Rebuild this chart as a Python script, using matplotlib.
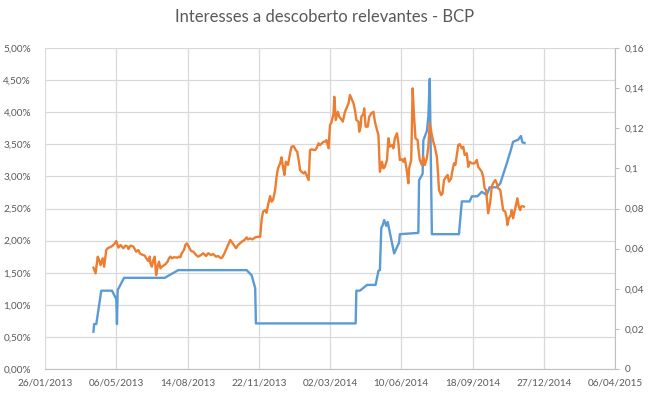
import numpy as np
import matplotlib
matplotlib.use("Agg")
import matplotlib.pyplot as plt
import matplotlib.dates as mdates
from matplotlib.ticker import FuncFormatter, MultipleLocator

# dias contados a partir de 26/01/2013
inicio = np.datetime64("2013-01-26")

# interesses a descoberto (% do capital) - eixo da esquerda
dias_short = [68, 69, 72, 79, 94, 100, 101, 102, 111, 168, 187, 283, 290, 295, 296,
              436, 437, 442, 452, 464, 468, 470, 472, 474, 476, 479, 481, 490, 497,
              498, 524, 525, 530, 531, 536, 538, 540, 543, 581, 585, 596, 599, 607,
              613, 620, 624, 634, 639, 648, 653, 657, 664, 668, 670, 673]
short_pct = [0.58, 0.70, 0.70, 1.22, 1.22, 1.09, 0.70, 1.23, 1.42, 1.42, 1.54, 1.54,
             1.46, 1.26, 0.71,
             0.71, 1.22, 1.22, 1.31, 1.31, 1.53, 1.54, 2.20, 2.24, 2.32, 2.23, 2.29,
             1.80, 1.97, 2.10, 2.12, 2.94, 3.04, 3.56, 3.71, 3.93, 4.52, 2.10, 2.10,
             2.61, 2.61, 2.69, 2.69, 2.76, 2.71, 2.83, 2.83, 2.89, 3.20, 3.38, 3.54,
             3.57, 3.63, 3.53, 3.52]

# cotação BCP (EUR) - eixo da direita
dias_cot = [68, 71, 74, 76, 78, 81, 83, 85, 86, 88, 93, 95, 98, 100, 101, 103, 106,
            108, 110, 113, 116, 117, 120, 124, 126, 128, 131, 133, 135, 140, 142, 145,
            147, 148, 150, 152, 154, 156, 158, 160, 162, 164, 169, 172, 174, 176, 178,
            181, 186, 188, 190, 192, 195, 197, 199, 201, 203, 205, 208, 210, 212, 215,
            219, 222, 226, 229, 233, 236, 240, 243, 247, 249, 252, 255, 260, 263, 268,
            271, 276, 280, 283, 285, 288, 291, 295, 299, 302, 304, 306, 309, 311, 313,
            316, 318, 320, 323, 325, 327, 330, 332, 334, 336, 338, 341, 344, 346, 349,
            352, 354, 356, 358, 360, 363, 365, 367, 370, 372, 374, 379, 381, 384, 386,
            391, 393, 395, 398, 400, 402, 405, 406, 408, 411, 413, 415, 418, 421, 423,
            426, 428, 430, 433, 435, 437, 440, 441, 443, 444, 447, 448, 450, 453, 455,
            458, 461, 463, 466, 468, 470, 473, 475, 477, 480, 482, 484, 487, 489, 491,
            494, 496, 498, 501, 503, 505, 508, 510, 511, 514, 516, 518, 520, 523, 524,
            526, 529, 531, 533, 536, 538, 540, 543, 545, 547, 550, 551, 553, 556, 558,
            560, 563, 565, 567, 570, 572, 574, 576, 580, 582, 585, 587, 589, 592, 594,
            596, 599, 603, 606, 608, 613, 615, 617, 619, 622, 625, 627, 629, 632, 634,
            636, 639, 641, 643, 646, 648, 649, 651, 654, 655, 657, 660, 662, 663, 665,
            667, 668, 670, 672]
cotacao = [0.0505, 0.0477, 0.0560, 0.0543, 0.0518, 0.0552, 0.0510, 0.0568, 0.0593,
           0.0602, 0.0610, 0.0615, 0.0626, 0.0638, 0.0626, 0.0605, 0.0618, 0.0610,
           0.0602, 0.0615, 0.0610, 0.0598, 0.0615, 0.0610, 0.0598, 0.0585, 0.0593,
           0.0577, 0.0572, 0.0565, 0.0552, 0.0538, 0.0560, 0.0527, 0.0510, 0.0543,
           0.0560, 0.0468, 0.0510, 0.0535, 0.0502, 0.0510, 0.0522, 0.0535, 0.0552,
           0.0560, 0.0552, 0.0557, 0.0555, 0.0560, 0.0557, 0.0577, 0.0593, 0.0618,
           0.0626, 0.0615, 0.0602, 0.0588, 0.0585, 0.0577, 0.0568, 0.0560,
           0.0568, 0.0577, 0.0563, 0.0577, 0.0568, 0.0573, 0.0560, 0.0563, 0.0552,
           0.0557, 0.0578, 0.0602, 0.0643, 0.0629, 0.0602, 0.0618, 0.0634, 0.0643,
           0.0656, 0.0646, 0.0651, 0.0646, 0.0656, 0.0659, 0.0659, 0.0743, 0.0784,
           0.0792, 0.0779, 0.0817, 0.0862, 0.0834, 0.0842, 0.0892, 0.0958, 0.1000,
           0.1025, 0.1055, 0.1008, 0.0967, 0.1033, 0.1017, 0.1075, 0.1108, 0.1111,
           0.1091, 0.1083, 0.1042, 0.0992, 0.0983, 0.0975, 0.0983, 0.0967, 0.0942,
           0.1091, 0.1095, 0.1091, 0.1100, 0.1125, 0.1116, 0.1133, 0.1133, 0.1141,
           0.1100, 0.1216, 0.1228, 0.1274, 0.1357, 0.1241, 0.1282, 0.1257, 0.1249,
           0.1233, 0.1282, 0.1299, 0.1324, 0.1366, 0.1349, 0.1324, 0.1291, 0.1241,
           0.1233, 0.1183, 0.1208, 0.1257, 0.1274, 0.1299, 0.1208, 0.1208, 0.1257,
           0.1274, 0.1282, 0.1233, 0.1191, 0.1166, 0.0983, 0.1033, 0.1000, 0.1008,
           0.1042, 0.1150, 0.1108, 0.1116, 0.1100, 0.1150, 0.1175, 0.1125, 0.1042,
           0.1045, 0.1033, 0.1050, 0.0983, 0.0926, 0.1000, 0.1042, 0.1399, 0.1257,
           0.1150, 0.1141, 0.1100, 0.1042, 0.1017, 0.1058, 0.1017, 0.1052, 0.1108,
           0.1225, 0.1166, 0.1133, 0.1108, 0.1058, 0.1008, 0.0892, 0.0867, 0.0876,
           0.0942, 0.0958, 0.0967, 0.0934, 0.0950, 0.0992, 0.1025, 0.1017, 0.1116,
           0.1121, 0.1100, 0.1108, 0.1067, 0.1075, 0.1008, 0.1033, 0.1025, 0.1025,
           0.1042, 0.1008, 0.0983, 0.0958, 0.0901, 0.0892, 0.0776, 0.0834, 0.0909,
           0.0926, 0.0942, 0.0926, 0.0901, 0.0892, 0.0842, 0.0792, 0.0784, 0.0751,
           0.0718, 0.0751, 0.0768, 0.0792, 0.0751, 0.0801, 0.0834, 0.0851, 0.0809,
           0.0792, 0.0809, 0.0812, 0.0809]

datas_short = inicio + np.array(dias_short).astype("timedelta64[D]")
datas_cot = inicio + np.array(dias_cot).astype("timedelta64[D]")
datas_ticks = inicio + np.arange(0, 801, 100).astype("timedelta64[D]")

cinza = "#595959"
grelha = "#d9d9d9"
plt.rcParams["font.family"] = ["Lato", "DejaVu Sans"]

fig = plt.figure(figsize=(6.49, 3.97), dpi=100)
ax = fig.add_axes([45 / 649, 1 - 369 / 397, 570 / 649, 321 / 397])
ax2 = ax.twinx()

ax.plot(datas_short, np.array(short_pct) / 100, color="#5B9BD5", lw=1.7,
        solid_joinstyle="round")
ax2.plot(datas_cot, cotacao, color="#ED7D31", lw=1.7, solid_joinstyle="round")

ax.set_xlim(datas_ticks[0], datas_ticks[-1])
ax.set_xticks(datas_ticks)
ax.xaxis.set_major_formatter(mdates.DateFormatter("%d/%m/%Y"))
ax.set_ylim(0, 0.05)
ax.yaxis.set_major_locator(MultipleLocator(0.005))
ax.yaxis.set_major_formatter(FuncFormatter(lambda v, p: f"{v * 100:.2f}%".replace(".", ",")))
ax2.set_ylim(0, 0.16)
ax2.yaxis.set_major_locator(MultipleLocator(0.02))
ax2.yaxis.set_major_formatter(
    FuncFormatter(lambda v, p: f"{v:.2f}".rstrip("0").rstrip(".").replace(".", ",")))

ax.grid(True, color=grelha, lw=0.9)
ax.set_axisbelow(True)
for a in (ax, ax2):
    for s in a.spines.values():
        s.set_visible(False)
ax.spines["bottom"].set_visible(True)
ax.spines["bottom"].set_color("#bfbfbf")
ax2.spines["right"].set_visible(True)
ax2.spines["right"].set_color("#bfbfbf")

ax.tick_params(axis="x", length=0, pad=7, labelsize=7.2, labelcolor=cinza)
ax.tick_params(axis="y", length=0, pad=10, labelsize=7.2, labelcolor=cinza)
ax2.tick_params(axis="y", length=3, width=0.8, color="#bfbfbf", pad=4,
                labelsize=7.2, labelcolor=cinza)

fig.text(0.5, 1 - 17 / 397, "Interesses a descoberto relevantes - BCP",
         ha="center", va="center", fontsize=12, color=cinza)

fig.savefig("out.png", dpi=100)
